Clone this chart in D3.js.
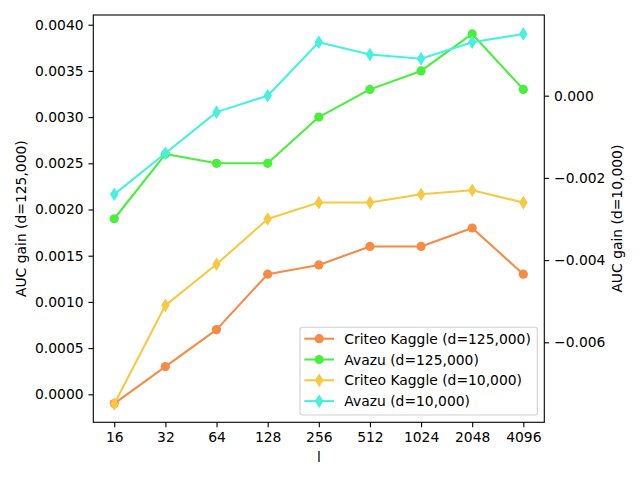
<!DOCTYPE html>
<html>
<head>
<meta charset="utf-8">
<script src="https://cdn.jsdelivr.net/npm/d3@7"></script>
<style>
  body { margin: 0; background: #fff; }
  svg { font-family: "DejaVu Sans", sans-serif; }
</style>
</head>
<body>
<svg id="chart" width="640" height="480"></svg>
<script>
// x categories (l values)
const lValues = [16, 32, 64, 128, 256, 512, 1024, 2048, 4096];

// left axis series (d=125,000)
const criteo125k = [-0.0001, 0.0003, 0.0007, 0.0013, 0.0014, 0.0016, 0.0016, 0.0018, 0.0013];
const avazu125k = [0.0019, 0.0026, 0.0025, 0.0025, 0.0030, 0.0033, 0.0035, 0.0039, 0.0033];

// right axis series (d=10,000)
const criteo10k = [-0.0075, -0.0051, -0.0041, -0.0030, -0.0026, -0.0026, -0.0024, -0.0023, -0.0026];
const avazu10k = [-0.0024, -0.0014, -0.0004, 0.0000, 0.0013, 0.0010, 0.0009, 0.0013, 0.0015];

const leftTicks = [0, 0.0005, 0.0010, 0.0015, 0.0020, 0.0025, 0.0030, 0.0035, 0.0040];
const rightTicks = [-0.006, -0.004, -0.002, 0.000];

const series = [
  { label: 'Criteo Kaggle (d=125,000)', values: criteo125k, axis: 'left', color: '#f78a45', marker: 'circle' },
  { label: 'Avazu (d=125,000)', values: avazu125k, axis: 'left', color: '#48f03c', marker: 'circle' },
  { label: 'Criteo Kaggle (d=10,000)', values: criteo10k, axis: 'right', color: '#f7c943', marker: 'diamond' },
  { label: 'Avazu (d=10,000)', values: avazu10k, axis: 'right', color: '#48f0de', marker: 'diamond' }
];

const svg = d3.select('#chart');
const box = { left: 93.3, right: 544.3, top: 15, bottom: 422.3 };

// categorical positions spaced evenly (log2 steps) with matplotlib-like margins
const x = d3.scaleLinear().domain([-0.41, lValues.length - 1 + 0.41]).range([box.left, box.right]);
const yL = d3.scaleLinear().domain([-0.000303, 0.004105]).range([box.bottom, box.top]);
const yR = d3.scaleLinear().domain([-0.007946, 0.001963]).range([box.bottom, box.top]);

const fontSize = 13.89; // 10pt at 100 dpi

// axes
const xAxis = d3.axisBottom(x).tickValues(d3.range(lValues.length))
  .tickFormat(i => lValues[i]).tickSizeOuter(0).tickSize(4.86).tickPadding(4.86);
const leftAxis = d3.axisLeft(yL).tickValues(leftTicks).tickFormat(d3.format('.4f'))
  .tickSizeOuter(0).tickSize(4.86).tickPadding(4.86);
const rightAxis = d3.axisRight(yR).tickValues(rightTicks).tickFormat(d3.format('.3f'))
  .tickSizeOuter(0).tickSize(4.86).tickPadding(4.86);

function styleAxis(g) {
  g.select('.domain').remove();
  g.selectAll('.tick line').attr('stroke', '#000').attr('stroke-width', 1.1);
  g.selectAll('.tick text').attr('fill', '#000').style('font-size', fontSize + 'px')
    .style('font-family', '"DejaVu Sans", sans-serif');
}

svg.append('g').attr('transform', `translate(0,${box.bottom})`).call(xAxis).call(styleAxis);
svg.append('g').attr('transform', `translate(${box.left},0)`).call(leftAxis).call(styleAxis);
svg.append('g').attr('transform', `translate(${box.right},0)`).call(rightAxis).call(styleAxis);

// lines and markers
const diamond = 'M0,-5.6L3.5,0L0,5.6L-3.5,0Z';

series.forEach(s => {
  const y = s.axis === 'left' ? yL : yR;
  const line = d3.line().x((d, i) => x(i)).y(d => y(d));
  const g = svg.append('g');
  g.append('path').datum(s.values)
    .attr('d', line).attr('fill', 'none')
    .attr('stroke', s.color).attr('stroke-width', 2.08).attr('stroke-linejoin', 'round');
  if (s.marker === 'circle') {
    g.selectAll('circle').data(s.values).enter().append('circle')
      .attr('cx', (d, i) => x(i)).attr('cy', d => y(d)).attr('r', 4.6)
      .attr('fill', s.color);
  } else {
    g.selectAll('path.m').data(s.values).enter().append('path').attr('class', 'm')
      .attr('transform', (d, i) => `translate(${x(i)},${y(d)})`)
      .attr('d', diamond).attr('fill', s.color)
      .attr('stroke', s.color).attr('stroke-width', 1.3);
  }
});

// frame
svg.append('rect')
  .attr('x', box.left).attr('y', box.top)
  .attr('width', box.right - box.left).attr('height', box.bottom - box.top)
  .attr('fill', 'none').attr('stroke', '#000').attr('stroke-width', 1.1);

// axis labels
svg.append('text').attr('x', 319).attr('y', 462).attr('text-anchor', 'middle')
  .style('font-size', fontSize + 'px').text('l');
svg.append('text').attr('transform', `translate(26,${(box.top + box.bottom) / 2}) rotate(-90)`)
  .attr('text-anchor', 'middle').style('font-size', fontSize + 'px').text('AUC gain (d=125,000)');
svg.append('text').attr('transform', `translate(622,${(box.top + box.bottom) / 2}) rotate(-90)`)
  .attr('text-anchor', 'middle').style('font-size', fontSize + 'px').text('AUC gain (d=10,000)');

// legend
const legend = svg.append('g').attr('transform', 'translate(300,327.3)');
legend.append('rect').attr('width', 237.3).attr('height', 87.7).attr('rx', 2.5)
  .attr('fill', '#fff').attr('fill-opacity', 0.8).attr('stroke', '#d0d0d0').attr('stroke-width', 1.1);
series.forEach((s, i) => {
  const row = legend.append('g').attr('transform', `translate(0,${11.4 + i * 20.8})`);
  row.append('line').attr('x1', 4.3).attr('x2', 34).attr('y1', 0).attr('y2', 0)
    .attr('stroke', s.color).attr('stroke-width', 2.08);
  if (s.marker === 'circle') {
    row.append('circle').attr('cx', 19.2).attr('cy', 0).attr('r', 4.6).attr('fill', s.color);
  } else {
    row.append('path').attr('transform', 'translate(19.2,0)').attr('d', diamond)
      .attr('fill', s.color).attr('stroke', s.color).attr('stroke-width', 1.3);
  }
  row.append('text').attr('x', 44.3).attr('y', 5).style('font-size', fontSize + 'px').text(s.label);
});
</script>
</body>
</html>
